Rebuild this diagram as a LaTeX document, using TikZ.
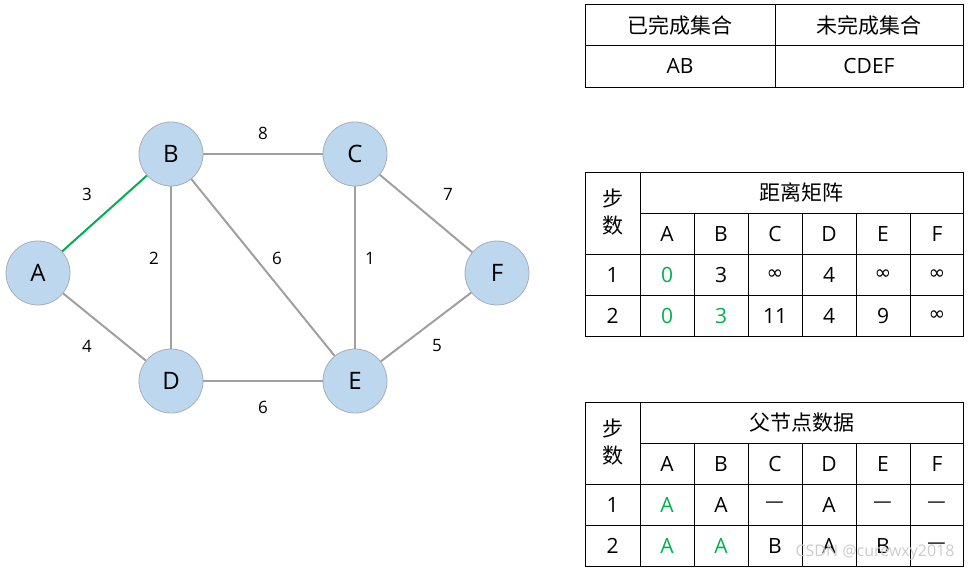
\documentclass[tikz,border=0pt]{standalone}
\usepackage{fontspec}
\setmainfont{Open Sans}
\newfontfamily\cjk{Noto Sans CJK SC}
\newfontfamily\symf{DejaVu Sans}
\definecolor{nodeblue}{HTML}{BDD7EE}
\definecolor{nodeborder}{HTML}{A6AEB8}
\definecolor{edgegray}{HTML}{A0A0A0}
\definecolor{okgreen}{HTML}{00B050}
\tikzset{
  vtx/.style={circle, fill=nodeblue, draw=nodeborder, line width=0.8pt, minimum size=64pt, inner sep=0pt, font=\fontsize{24}{24}\selectfont},
  edge/.style={draw=edgegray, line width=2pt},
  done/.style={draw=okgreen, line width=2pt},
  wlabel/.style={inner sep=0pt, font=\fontsize{17}{17}\selectfont},
  tbl/.style={draw=black, line width=1pt},
  cell/.style={inner sep=0pt, font=\fontsize{21}{21}\selectfont},
  ccell/.style={inner sep=0pt, font=\cjk\fontsize{21}{21}\selectfont},
  scell/.style={inner sep=0pt, font=\symf\fontsize{20}{20}\selectfont},
  gcell/.style={cell, text=okgreen},
}
\begin{document}
\begin{tikzpicture}[x=1pt,y=-1pt]
\useasboundingbox (0,0) rectangle (969,571);
% graph
\node[vtx] (A) at (38,273) {A};
\node[vtx] (B) at (171,154) {B};
\node[vtx] (C) at (355,154) {C};
\node[vtx] (D) at (171,381) {D};
\node[vtx] (E) at (355,381) {E};
\node[vtx] (F) at (497,273) {F};
\draw[done] (A) -- (B);
\draw[edge] (A) -- (D);
\draw[edge] (B) -- (C);
\draw[edge] (B) -- (D);
\draw[edge] (B) -- (E);
\draw[edge] (C) -- (E);
\draw[edge] (C) -- (F);
\draw[edge] (D) -- (E);
\draw[edge] (E) -- (F);
\node[wlabel] (wAB) at (87,194) {3};
\node[wlabel] (wBC) at (263,133) {8};
\node[wlabel] (wCF) at (448,194) {7};
\node[wlabel] (wBD) at (154,258) {2};
\node[wlabel] (wBE) at (277,258) {6};
\node[wlabel] (wCE) at (370,258) {1};
\node[wlabel] (wAD) at (87,346) {4};
\node[wlabel] (wEF) at (437,346) {5};
\node[wlabel] (wDE) at (263,407) {6};
% table 1
\draw[tbl] (585,4) rectangle (963,87);
\draw[tbl] (585,45) -- (963,45);
\draw[tbl] (775,4) -- (775,87);
\node[ccell] (t1a) at (680,25) {已完成集合};
\node[ccell] (t1b) at (869,25) {未完成集合};
\node[cell] (t1c) at (680,66) {AB};
\node[cell] (t1d) at (869,66) {CDEF};
% table 2 and 3
\foreach \dy/\title/\tn in {0/距离矩阵/d, 230/父节点数据/p} {
  \begin{scope}[yshift=-\dy pt]
    \draw[tbl] (585,172) rectangle (963,336);
    \draw[tbl] (640,172) -- (640,336);
    \draw[tbl] (640,213) -- (963,213);
    \draw[tbl] (585,254) -- (963,254);
    \draw[tbl] (585,295) -- (963,295);
    \foreach \x in {694,748,802,856,910} \draw[tbl] (\x,213) -- (\x,336);
    \node[ccell] (\tn step1) at (612.5,198) {步};
    \node[ccell] (\tn step2) at (612.5,226) {数};
    \node[ccell] (\tn title) at (801.5,192.5) {\title};
    \foreach \h [count=\i] in {A,B,C,D,E,F}
      \node[cell] (\tn h\i) at (613+54*\i,234) {\h};
    \node[cell] (\tn r1) at (612.5,275) {1};
    \node[cell] (\tn r2) at (612.5,316) {2};
  \end{scope}
}
% distance values
\node[gcell] (d11) at (667,275) {0};
\node[cell] (d12) at (721,275) {3};
\node[scell] (d13) at (775,275) {∞};
\node[cell] (d14) at (829,275) {4};
\node[scell] (d15) at (883,275) {∞};
\node[scell] (d16) at (937,275) {∞};
\node[gcell] (d21) at (667,316) {0};
\node[gcell] (d22) at (721,316) {3};
\node[cell] (d23) at (775,316) {11};
\node[cell] (d24) at (829,316) {4};
\node[cell] (d25) at (883,316) {9};
\node[scell] (d26) at (937,316) {∞};
% parent values
\node[gcell] (p11) at (667,505) {A};
\node[cell] (p12) at (721,505) {A};
\node[ccell] (p13) at (775,505) {—};
\node[cell] (p14) at (829,505) {A};
\node[ccell] (p15) at (883,505) {—};
\node[ccell] (p16) at (937,505) {—};
\node[gcell] (p21) at (667,546) {A};
\node[gcell] (p22) at (721,546) {A};
\node[cell] (p23) at (775,546) {B};
\node[cell] (p24) at (829,546) {A};
\node[cell] (p25) at (883,546) {B};
\node[ccell] (p26) at (937,546) {—};
% watermark
\node[inner sep=0pt, text=gray!40, font=\fontsize{16}{16}\selectfont] (wm) at (875,553) {CSDN @curewxy2018};
\end{tikzpicture}
\end{document}
